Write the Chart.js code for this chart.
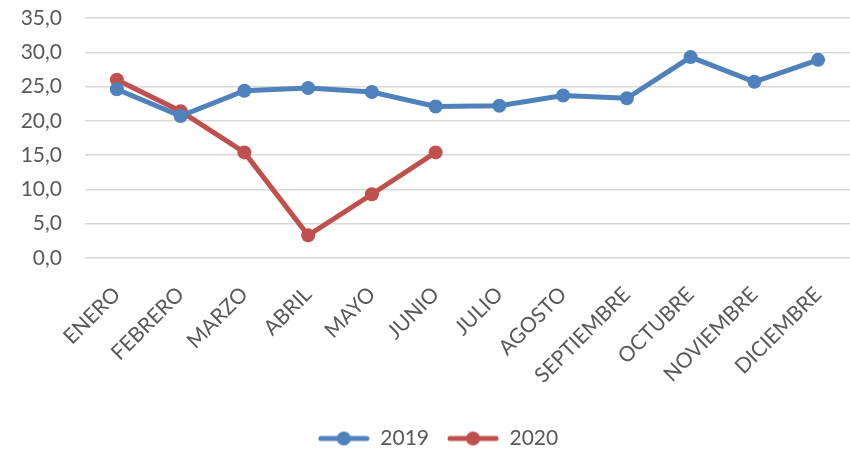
<!DOCTYPE html>
<html>
<head>
<meta charset="utf-8">
<script src="https://cdn.jsdelivr.net/npm/chart.js@4/dist/chart.umd.min.js"></script>
<style>
  html, body { margin: 0; padding: 0; background: #fff; }
  #chart { display: block; }
</style>
</head>
<body>
<canvas id="chart" width="850" height="453"></canvas>
<script>
var months = ['ENERO', 'FEBRERO', 'MARZO', 'ABRIL', 'MAYO', 'JUNIO', 'JULIO', 'AGOSTO', 'SEPTIEMBRE', 'OCTUBRE', 'NOVIEMBRE', 'DICIEMBRE'];
var values2019 = [24.6, 20.7, 24.4, 24.8, 24.2, 22.1, 22.2, 23.7, 23.3, 29.3, 25.7, 28.9];
var values2020 = [26.0, 21.4, 15.4, 3.3, 9.3, 15.4, null, null, null, null, null, null];
var yTicks = [0, 5, 10, 15, 20, 25, 30, 35];

var blue = '#4F81BD';
var red = '#C0504D';
var font = 'Lato, "Open Sans", sans-serif';

// line + dot sample for the legend, like the spreadsheet one
function legendMark(color) {
    var c = document.createElement('canvas');
    c.width = 52;
    c.height = 16;
    var g = c.getContext('2d');
    g.strokeStyle = color;
    g.lineWidth = 5;
    g.lineCap = 'round';
    g.beginPath();
    g.moveTo(3, 8);
    g.lineTo(49, 8);
    g.stroke();
    g.fillStyle = color;
    g.beginPath();
    g.arc(26, 8, 7, 0, Math.PI * 2);
    g.fill();
    return c;
}

var ctx = document.getElementById('chart').getContext('2d');
var chart = new Chart(ctx, {
    type: 'line',
    data: {
        labels: months,
        datasets: [{
            label: '2019',
            data: values2019,
            borderColor: blue,
            backgroundColor: blue,
            borderWidth: 5,
            pointRadius: 7,
            pointHoverRadius: 7,
            pointBorderWidth: 0,
            tension: 0
        }, {
            label: '2020',
            data: values2020,
            borderColor: red,
            backgroundColor: red,
            borderWidth: 5,
            pointRadius: 7,
            pointHoverRadius: 7,
            pointBorderWidth: 0,
            spanGaps: false,
            tension: 0
        }]
    },
    options: {
        responsive: false,
        animation: false,
        layout: {
            autoPadding: false,
            // negative right only widens the legend box, so it sits a bit right of centre
            padding: { top: 0, right: -26, left: 0, bottom: -6 }
        },
        plugins: {
            tooltip: { enabled: false },
            legend: {
                position: 'bottom',
                labels: {
                    color: '#595959',
                    font: { family: font, size: 21 },
                    usePointStyle: true,
                    pointStyleWidth: 52,
                    padding: 18,
                    generateLabels: function(c) {
                        return c.data.datasets.map(function(ds, i) {
                            return {
                                text: ds.label,
                                fillStyle: ds.borderColor,
                                strokeStyle: ds.borderColor,
                                fontColor: '#595959',
                                pointStyle: legendMark(ds.borderColor),
                                datasetIndex: i,
                                hidden: false
                            };
                        });
                    }
                }
            }
        },
        scales: {
            x: {
                offset: true,
                grid: { display: false },
                border: { display: false },
                afterFit: function(scale) {
                    scale.height = 152;
                    scale.paddingLeft = 0;
                    scale.paddingRight = 0;
                },
                ticks: {
                    color: '#595959',
                    font: { family: font, size: 21 },
                    minRotation: 45,
                    maxRotation: 45,
                    autoSkip: false,
                    padding: 16
                }
            },
            y: {
                min: 0,
                max: 35,
                afterFit: function(scale) {
                    scale.width = 85;
                    scale.paddingTop = 18;
                    scale.paddingBottom = 13;
                },
                afterBuildTicks: function(scale) {
                    scale.ticks = yTicks.map(function(v) { return { value: v }; });
                },
                grid: { color: '#d9d9d9', lineWidth: 1.5, drawTicks: false },
                border: { display: false },
                ticks: {
                    color: '#595959',
                    font: { family: font, size: 21 },
                    padding: 23,
                    callback: function(v) { return v.toFixed(1).replace('.', ','); }
                }
            }
        }
    }
});
</script>
</body>
</html>
